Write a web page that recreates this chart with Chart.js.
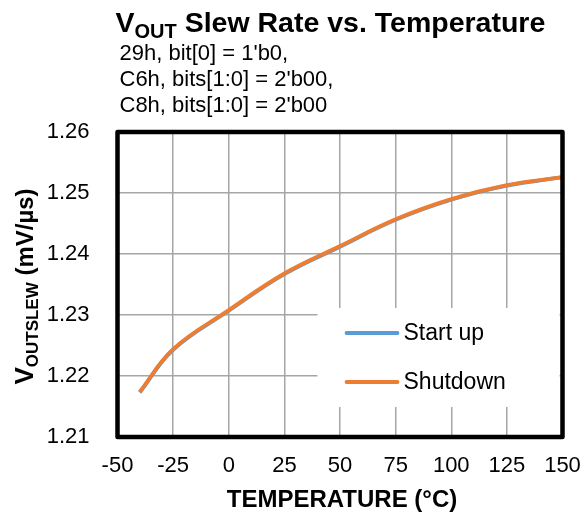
<!DOCTYPE html>
<html>
<head>
<meta charset="utf-8">
<script src="https://cdn.jsdelivr.net/npm/chart.js@4/dist/chart.umd.min.js"></script>
<style>
html,body{margin:0;padding:0;background:#fff;}
#wrap{width:585px;height:517px;position:relative;}
</style>
</head>
<body>
<div id="wrap"><canvas id="c" width="585" height="517"></canvas></div>
<script>
const temperatures = [-40, -25, 0, 25, 50, 75, 100, 125, 150];
const startUp  = [1.2173, 1.2243, 1.2307, 1.2367, 1.2412, 1.2456, 1.2489, 1.2512, 1.2526];
const shutdown = [1.2174, 1.2244, 1.2308, 1.2368, 1.2413, 1.2457, 1.2490, 1.2513, 1.2526];
const xTicks = [-50, -25, 0, 25, 50, 75, 100, 125, 150];
const yTicks = [1.21, 1.22, 1.23, 1.24, 1.25, 1.26];
const seriesNames = ['Start up', 'Shutdown'];
const titleMain = ' Slew Rate vs. Temperature';
const subtitleLines = ["29h, bit[0] = 1'b0,", "C6h, bits[1:0] = 2'b00,", "C8h, bits[1:0] = 2'b00"];
const xTitle = 'TEMPERATURE (°C)';

const FONT = '"Liberation Sans", Arial, sans-serif';
const BLUE = '#5B9BD5', ORANGE = '#ED7D31';

function drawSegs(ctx, x, y, segs) {
  let cx = x;
  for (const s of segs) {
    ctx.font = s.font;
    cx += (s.gap || 0);
    ctx.fillText(s.t, cx, y + (s.dy || 0));
    cx += ctx.measureText(s.t).width;
  }
  return cx - x;
}
function segsWidth(ctx, segs) {
  let w = 0;
  for (const s of segs) { ctx.font = s.font; w += ctx.measureText(s.t).width + (s.gap || 0); }
  return w;
}

const decor = {
  id: 'decor',
  beforeDatasetsDraw(chart) {
    const ctx = chart.ctx, a = chart.chartArea;
    ctx.save();
    const lx = a.left + 200, ly = a.top + 176, lw = 242, lh = 99;
    ctx.fillStyle = '#fff';
    ctx.fillRect(lx, ly, lw, lh);
    ctx.lineCap = 'round';
    const items = [{c: BLUE, y: ly + 25}, {c: ORANGE, y: ly + 74}];
    items.forEach((it, i) => {
      ctx.strokeStyle = it.c; ctx.lineWidth = 3.8;
      ctx.beginPath(); ctx.moveTo(lx + 29, it.y); ctx.lineTo(lx + 80, it.y); ctx.stroke();
      ctx.fillStyle = '#000'; ctx.font = '23px ' + FONT;
      ctx.textBaseline = 'middle'; ctx.textAlign = 'left';
      ctx.fillText(seriesNames[i], lx + 86, it.y + 1);
    });
    ctx.restore();
  },
  afterDatasetsDraw(chart) {
    const ctx = chart.ctx, a = chart.chartArea;
    ctx.save();
    ctx.strokeStyle = '#000'; ctx.lineWidth = 4.5; ctx.lineJoin = 'round';
    ctx.strokeRect(a.left, a.top, a.right - a.left, a.bottom - a.top);
    // title
    ctx.fillStyle = '#000'; ctx.textBaseline = 'alphabetic'; ctx.textAlign = 'left';
    drawSegs(ctx, a.left - 2, 32, [
      {t: 'V', font: 'bold 28.5px ' + FONT},
      {t: 'OUT', font: 'bold 20px ' + FONT, dy: 6},
      {t: titleMain, font: 'bold 28.5px ' + FONT}
    ]);
    // subtitle
    ctx.font = '22px ' + FONT;
    subtitleLines.forEach((l, i) => ctx.fillText(l, a.left + 2, 60 + i * 26));
    // x title
    ctx.font = 'bold 24px ' + FONT; ctx.textAlign = 'center';
    ctx.fillText(xTitle, (a.left + a.right) / 2 + 2, 507);
    // y title
    ctx.translate(33, (a.top + a.bottom) / 2);
    ctx.rotate(-Math.PI / 2);
    ctx.textAlign = 'left';
    const ysegs = [
      {t: 'V', font: 'bold 26px ' + FONT},
      {t: 'OUTSLEW', font: 'bold 17px ' + FONT, dy: 5},
      {t: ' (mV/µs)', font: 'bold 24px ' + FONT}
    ];
    const yw = segsWidth(ctx, ysegs);
    drawSegs(ctx, -yw / 2 - 2, 0, ysegs);
    ctx.restore();
  }
};

const ds = (label, data, color, order) => ({
  label,
  data: temperatures.map((t, i) => ({x: t, y: data[i]})),
  borderColor: color,
  backgroundColor: color,
  borderWidth: 3.8,
  pointRadius: 0,
  tension: 0.4,
  order,
  fill: false
});

new Chart(document.getElementById('c'), {
  type: 'line',
  data: {
    datasets: [ds(seriesNames[0], startUp, BLUE, 2), ds(seriesNames[1], shutdown, ORANGE, 1)]
  },
  options: {
    responsive: false,
    animation: false,
    devicePixelRatio: 1,
    layout: {padding: {left: 0, right: 22.5, top: 132, bottom: 0}},
    plugins: {legend: {display: false}, tooltip: {enabled: false}, title: {display: false}},
    scales: {
      x: {
        type: 'linear', min: -50, max: 150,
        afterBuildTicks(s) { s.ticks = xTicks.map(v => ({value: v})); },
        afterFit(s) { s.height = 80; s.paddingLeft = 0; s.paddingRight = 0; },
        grid: {color: '#a6a6a6', lineWidth: 1.5, drawTicks: false},
        border: {display: false},
        ticks: {color: '#000', font: {family: FONT, size: 22}, padding: 16, maxRotation: 0, autoSkip: false}
      },
      y: {
        type: 'linear', min: 1.21, max: 1.26,
        afterBuildTicks(s) { s.ticks = yTicks.map(v => ({value: v})); },
        afterFit(s) { s.width = 117.5; s.paddingTop = 0; s.paddingBottom = 0; },
        grid: {color: '#a6a6a6', lineWidth: 1.5, drawTicks: false},
        border: {display: false},
        ticks: {color: '#000', font: {family: FONT, size: 22}, padding: 28, callback: v => v.toFixed(2)}
      }
    }
  },
  plugins: [decor]
});
</script>
</body>
</html>
